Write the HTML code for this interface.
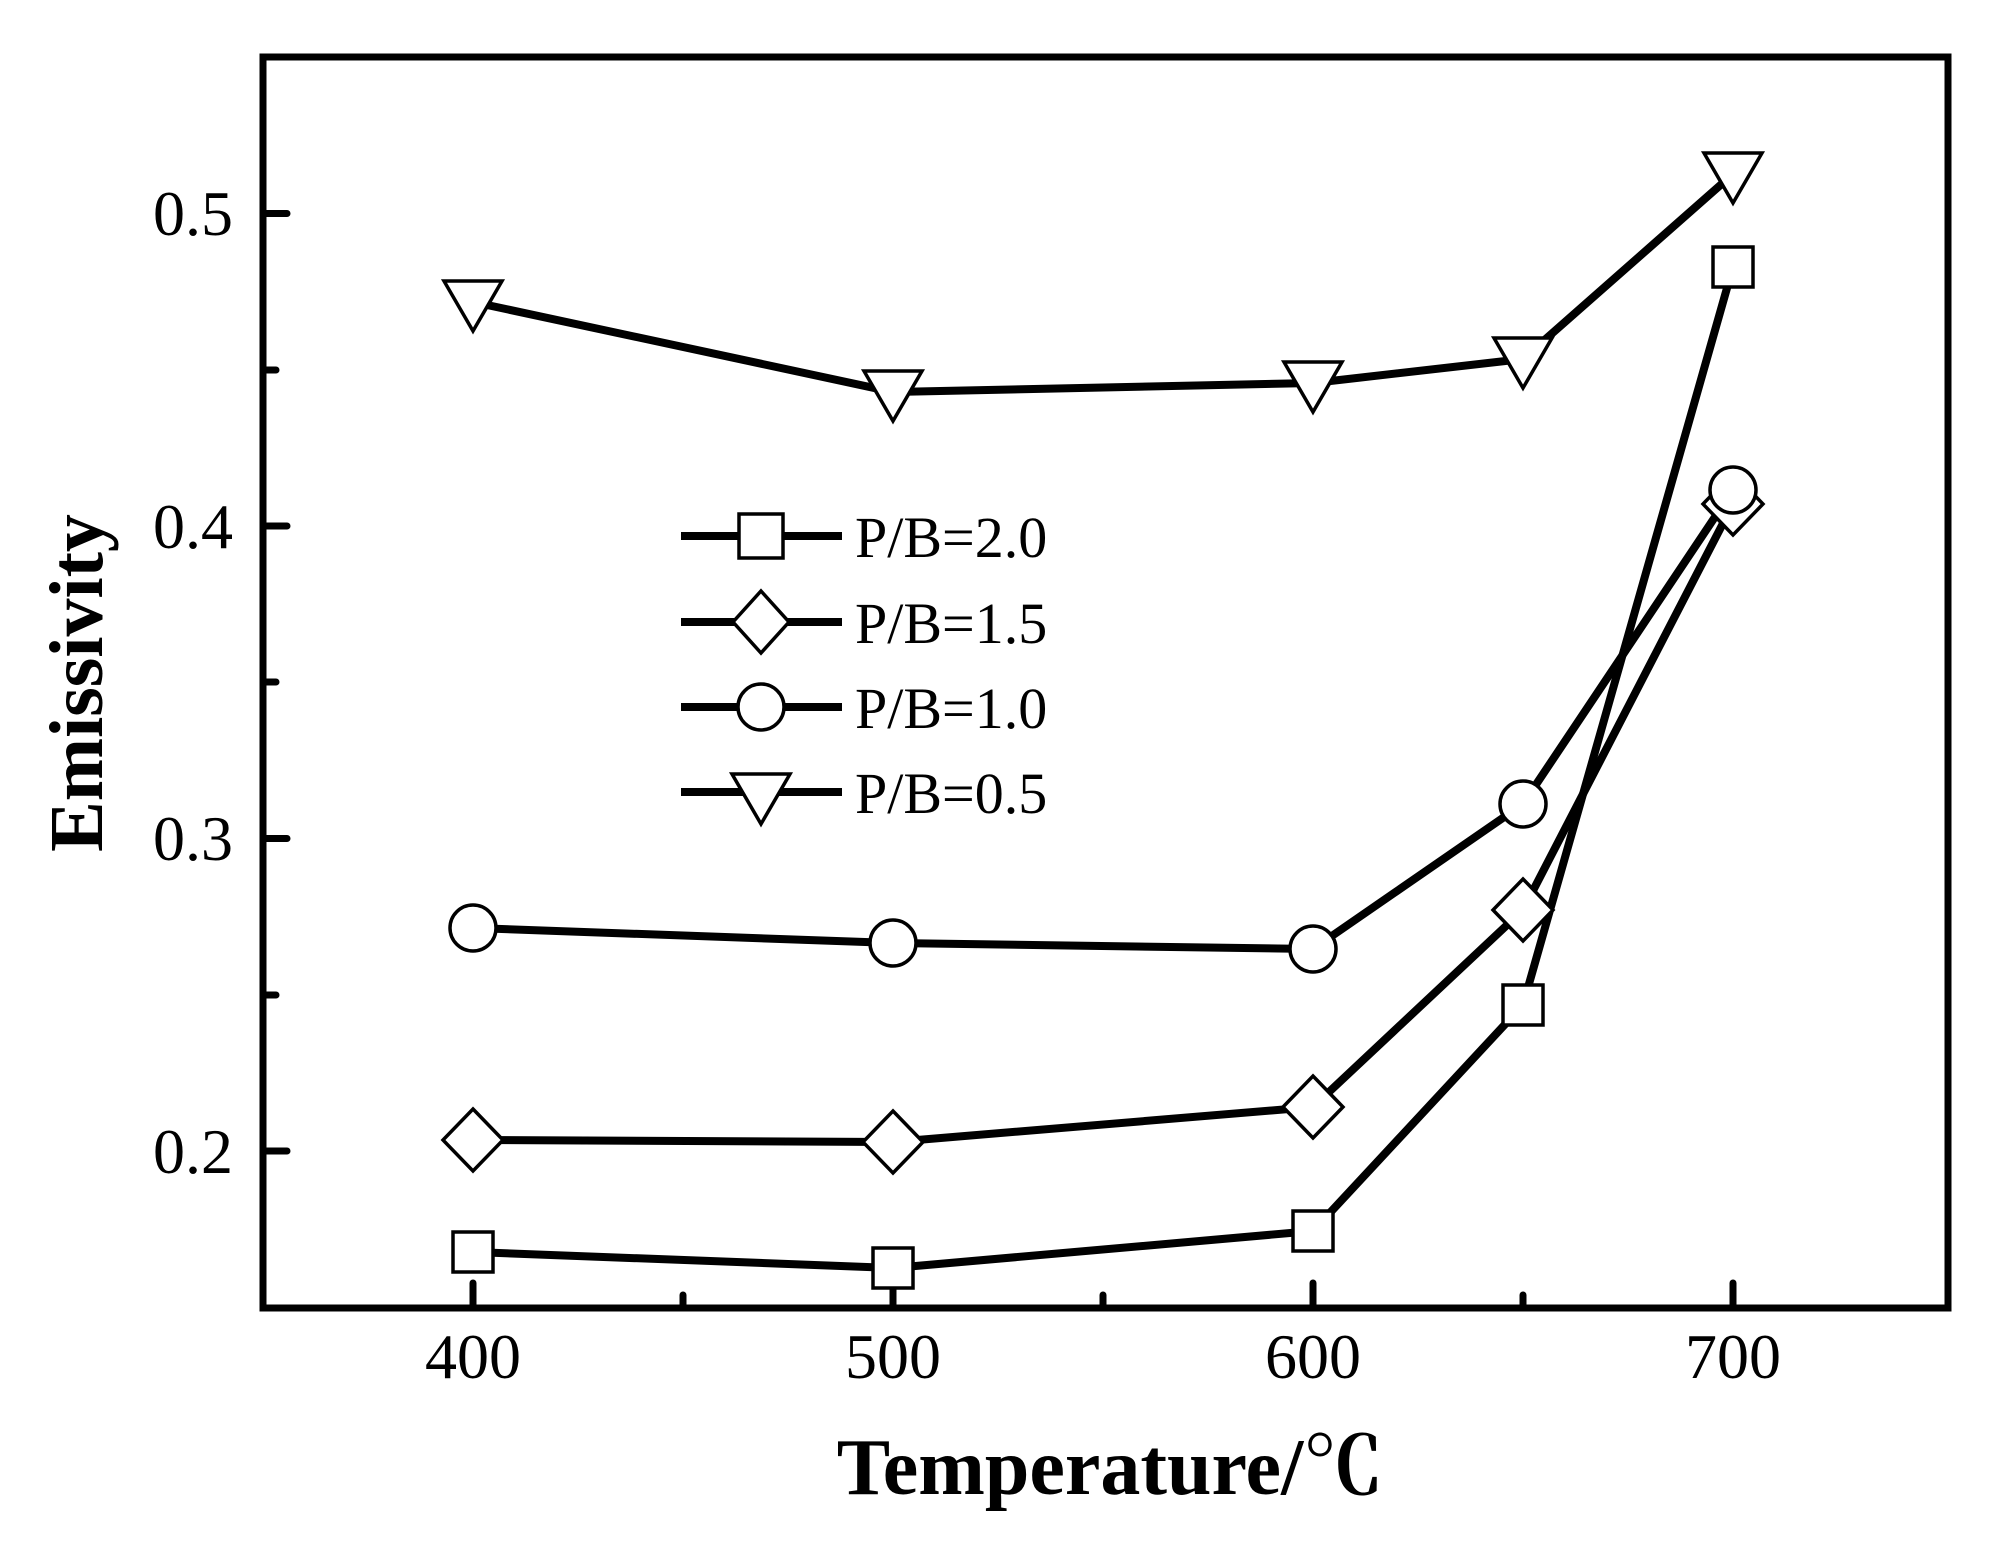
<!DOCTYPE html>
<html><head><meta charset="utf-8"><style>body{margin:0;background:#fff}svg{display:block}</style></head><body>
<svg width="1992" height="1556" viewBox="0 0 1992 1556" xmlns="http://www.w3.org/2000/svg">
<rect width="1992" height="1556" fill="#fff"/>
<g stroke="#000" stroke-width="7" fill="none" stroke-linecap="round">
<rect x="263" y="57" width="1685" height="1251"/>
<line x1="263" y1="213.5" x2="287" y2="213.5"/><line x1="263" y1="526" x2="287" y2="526"/><line x1="263" y1="838.5" x2="287" y2="838.5"/><line x1="263" y1="1151" x2="287" y2="1151"/>
<line x1="263" y1="370" x2="276" y2="370"/><line x1="263" y1="682" x2="276" y2="682"/><line x1="263" y1="995" x2="276" y2="995"/>
<line x1="473" y1="1308" x2="473" y2="1283"/><line x1="893" y1="1308" x2="893" y2="1283"/><line x1="1313" y1="1308" x2="1313" y2="1283"/><line x1="1733" y1="1308" x2="1733" y2="1283"/>
<line x1="683" y1="1308" x2="683" y2="1295"/><line x1="1103" y1="1308" x2="1103" y2="1295"/><line x1="1523" y1="1308" x2="1523" y2="1295"/>
</g>
<g stroke="#000" stroke-width="8" fill="none" stroke-linejoin="round">
<polyline points="473,302 893,392 1313,383 1523,359 1733,174"/>
<polyline points="473,928 893,943 1313,949 1523,804 1733,490"/>
<polyline points="473,1140 893,1142 1313,1107 1523,910 1733,504"/>
<polyline points="473,1252 893,1268 1313,1231 1523,1005 1733,267"/>
<line x1="681" y1="536" x2="842" y2="536"/><line x1="681" y1="622" x2="842" y2="622"/><line x1="681" y1="707" x2="842" y2="707"/><line x1="681" y1="792" x2="842" y2="792"/>
</g>
<g stroke="#000" stroke-width="3.5" fill="#fff">
<path d="M444,281h58l-29,50z M864,371h58l-29,50z M1284,362h58l-29,50z M1494,338h58l-29,50z M1704,153h58l-29,50z M732,774h58l-29,50z"/>
<path d="M473,1109l30,31l-30,31l-30,-31z M893,1111l30,31l-30,31l-30,-31z M1313,1076l30,31l-30,31l-30,-31z M1523,879l30,31l-30,31l-30,-31z M1733,473l30,31l-30,31l-30,-31z M761,591l28,31l-28,31l-28,-31z"/>
<circle cx="473" cy="928" r="23"/><circle cx="893" cy="943" r="23"/><circle cx="1313" cy="949" r="23"/><circle cx="1523" cy="804" r="23"/><circle cx="1733" cy="490" r="23"/><circle cx="761" cy="707" r="23"/>
<rect x="453" y="1232" width="40" height="40"/><rect x="873" y="1248" width="40" height="40"/><rect x="1293" y="1211" width="40" height="40"/><rect x="1503" y="985" width="40" height="40"/><rect x="1713" y="247" width="40" height="40"/><rect x="739" y="514" width="44" height="44"/>
</g>
<g font-family="Liberation Serif, serif" font-size="64" fill="#000">
<text x="233" y="235" text-anchor="end">0.5</text><text x="233" y="548" text-anchor="end">0.4</text><text x="233" y="860" text-anchor="end">0.3</text><text x="233" y="1173" text-anchor="end">0.2</text>
<text x="473" y="1378" text-anchor="middle">400</text><text x="893" y="1378" text-anchor="middle">500</text><text x="1313" y="1378" text-anchor="middle">600</text><text x="1733" y="1378" text-anchor="middle">700</text>
</g>
<g font-family="Liberation Serif, serif" font-size="58" fill="#000">
<text x="855" y="557">P/B=2.0</text><text x="855" y="643">P/B=1.5</text><text x="855" y="728">P/B=1.0</text><text x="855" y="813">P/B=0.5</text>
</g>
<g font-family="Liberation Serif, 'Noto Serif CJK SC', serif" font-weight="bold" fill="#000">
<text x="1110" y="1494" text-anchor="middle" font-size="80">Temperature/℃</text>
<text transform="translate(102,683) rotate(-90)" text-anchor="middle" font-size="76">Emissivity</text>
</g>
</svg>
</body></html>
